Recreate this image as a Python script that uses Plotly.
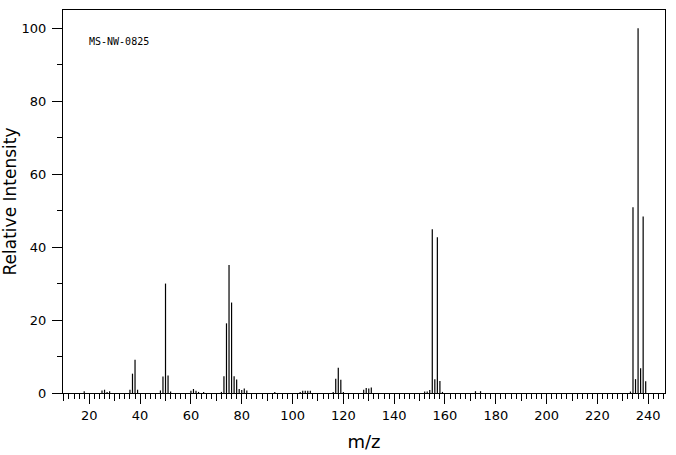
import plotly.graph_objects as go

# m/z values and relative intensities
mz = [18, 25, 26, 27, 28, 36, 37, 38, 39, 48, 49, 50, 51, 52,
      60, 61, 62, 63, 65, 72, 73, 74, 75, 76, 77, 78, 79, 80, 81, 82,
      93, 103, 104, 105, 106, 107, 116, 117, 118, 119, 120,
      128, 129, 130, 131, 152, 153, 154, 155, 156, 157, 158, 159,
      172, 174, 233, 234, 235, 236, 237, 238, 239]
intensity = [0.5, 0.7, 0.9, 0.3, 0.5, 0.9, 5.3, 9.1, 0.9, 0.7, 4.5, 30.0, 4.8, 0.4,
             0.6, 1.1, 0.6, 0.3, 0.3, 0.3, 4.6, 19.1, 35.1, 24.8, 4.6, 3.7, 1.1, 0.8, 1.2, 0.7,
             0.3, 0.3, 0.6, 0.6, 0.6, 0.6, 0.3, 3.9, 6.9, 3.6, 0.3,
             0.9, 1.4, 1.2, 1.5, 0.4, 0.4, 0.8, 44.9, 3.8, 42.7, 3.3, 0.3,
             0.5, 0.5, 0.4, 50.9, 3.8, 100.0, 6.8, 48.4, 3.2]

x_ticks = [20, 40, 60, 80, 100, 120, 140, 160, 180, 200, 220, 240]
x_mid_ticks = [10, 30, 50, 70, 90, 110, 130, 150, 170, 190, 210, 230]
y_ticks = [0, 20, 40, 60, 80, 100]

label = "MS-NW-0825"

X_RANGE = [9.65, 246.6]
Y_RANGE = [0, 105]

# build stick segments from data
xs, ys = [], []
for m, v in zip(mz, intensity):
    xs += [m, m, None]
    ys += [0, v, None]

fig = go.Figure()
fig.add_trace(go.Scatter(x=xs, y=ys, mode="lines",
                         line=dict(color="black", width=1.2),
                         hoverinfo="skip", showlegend=False))
# invisible trace to anchor the medium-tick overlay axis
fig.add_trace(go.Scatter(x=[X_RANGE[0]], y=[0], xaxis="x2", yaxis="y",
                         mode="markers", marker=dict(opacity=0),
                         hoverinfo="skip", showlegend=False))

FONT = "DejaVu Sans"

fig.update_layout(
    width=676, height=455,
    margin=dict(l=63, r=11, t=10, b=62),
    paper_bgcolor="white", plot_bgcolor="white",
    font=dict(family=FONT, color="black", size=12),
    xaxis=dict(
        range=X_RANGE, showgrid=False, zeroline=False, automargin=False,
        showline=True, linecolor="black", linewidth=1, mirror=True,
        tickmode="array", tickvals=x_ticks, ticktext=[str(t) for t in x_ticks],
        ticks="outside", ticklen=10, tickwidth=1, tickcolor="black",
        tickfont=dict(size=13, family=FONT),
        minor=dict(dtick=2, tick0=0, ticks="outside", ticklen=5,
                   tickwidth=1, tickcolor="black", showgrid=False),
        title=dict(text="m/z", font=dict(size=18, family=FONT), standoff=13),
    ),
    xaxis2=dict(
        range=X_RANGE, overlaying="x", anchor="y", side="bottom", automargin=False,
        showgrid=False, zeroline=False, showline=False,
        tickmode="array", tickvals=x_mid_ticks, showticklabels=False,
        ticks="outside", ticklen=7, tickwidth=1, tickcolor="black",
    ),
    yaxis=dict(
        range=Y_RANGE, showgrid=False, zeroline=False, automargin=False,
        showline=True, linecolor="black", linewidth=1, mirror=True,
        tickmode="array", tickvals=y_ticks, ticktext=[str(t) for t in y_ticks],
        ticks="outside", ticklen=10, tickwidth=1, tickcolor="black",
        tickfont=dict(size=13, family=FONT), ticklabelstandoff=3,
        minor=dict(dtick=10, tick0=0, ticks="outside", ticklen=5,
                   tickwidth=1, tickcolor="black", showgrid=False),
        title=dict(text="Relative Intensity", font=dict(size=17, family=FONT), standoff=6),
    ),
    annotations=[dict(
        text=label, xref="x domain", yref="y", x=0.04, y=96.3,
        xanchor="left", yanchor="middle", showarrow=False,
        font=dict(family="DejaVu Sans Mono", size=10, color="black"),
    )],
)

fig.write_html("out.html", config={"displayModeBar": False},
               post_script="document.body.style.margin='0';")
